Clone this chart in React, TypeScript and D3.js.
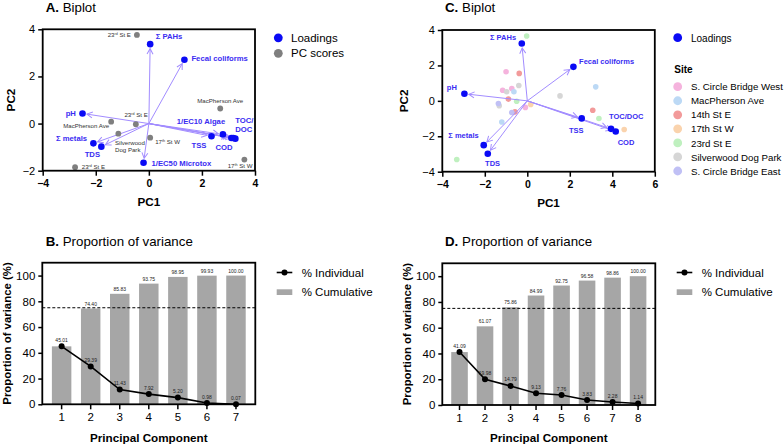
import { useRef, useEffect } from 'react';
import * as d3 from 'd3';

// ---------- A. Biplot (site data) ----------
const aLoadNames = ["Σ PAHs", "Fecal coliforms", "pH", "Σ metals", "TDS", "1/EC50 Microtox", "1/EC10 Algae", "TSS", "COD", "TOC/\nDOC", ""];
const aLoadPC1 = [0.05, 1.34, -2.5, -2.09, -1.79, -0.2, 2.79, 2.36, 3.11, 3.18, 3.26];
const aLoadPC2 = [3.37, 2.71, 0.43, -0.84, -0.98, -1.66, -0.46, -0.54, -0.61, -0.61, -0.64];

const aScoreNames = ["23rd St E", "23rd St E", "MacPherson Ave", "Silverwood\nDog Park", "17th St W", "MacPherson Ave", "17th St W", "23rd St E"];
const aScorePC1 = [-0.45, -0.49, -1.42, -1.15, 0.05, 2.69, 3.6, -2.78];
const aScorePC2 = [3.76, -0.03, 0.08, -0.43, -0.6, 0.64, -1.53, -1.85];

// ---------- C. Biplot (all samples) ----------
const cLoadNames = ["Σ PAHs", "Fecal coliforms", "pH", "Σ metals", "TDS", "TSS", "TOC/DOC", "COD"];
const cLoadPC1 = [-0.26, 2.17, -2.96, -2.05, -1.86, 2.56, 3.94, 4.16];
const cLoadPC2 = [3.24, 1.92, 0.4, -2.5, -2.99, -0.99, -1.58, -1.73];

const sites = ["S. Circle Bridge West", "MacPherson Ave", "14th St E", "17th St W", "23rd St E", "Silverwood Dog Park", "S. Circle Bridge East"];
const sampleSite = [4, 4, 4, 4, 0, 0, 0, 0, 2, 2, 2, 2, 5, 5, 5, 5, 1, 1, 1, 6, 6, 3, 3];
const samplePC1 = [-0.03, -0.5, -3.32, 3.37, -1.0, -1.16, -0.73, -0.09, -0.38, -0.89, -0.58, 3.08, -0.4, -0.97, -1.32, 1.54, -0.63, -1.2, 3.22, -1.36, -0.73, 0.16, 4.56];
const samplePC2 = [3.66, -0.02, -3.31, -1.0, 1.64, 0.6, 0.7, -0.37, 1.55, 0.1, -0.62, -0.53, 0.87, 0.51, -0.28, 0.28, 0.51, -1.19, 0.79, -0.15, -0.66, -0.2, -1.62];

// ---------- B / D. Proportion of variance ----------
const bComponents = ["1", "2", "3", "4", "5", "6", "7"];
const bIndividual = [45.01, 29.39, 11.43, 7.92, 5.2, 0.98, 0.07];
const bCumulative = [45.01, 74.4, 85.83, 93.75, 98.95, 99.93, 100.0];

const dComponents = ["1", "2", "3", "4", "5", "6", "7", "8"];
const dIndividual = [41.09, 19.98, 14.79, 9.13, 7.76, 3.83, 2.28, 1.14];
const dCumulative = [41.09, 61.07, 75.86, 84.99, 92.75, 96.58, 98.86, 100.0];

const threshold = 75;

// label placement (pixel offsets from the point: dx, dy, anchor)
const aLoadLabelPos: [number, number, string][] = [
  [5.5, -5, 'start'], [7, 1.5, 'start'], [-6.6, 3, 'end'], [-6.3, -2, 'end'], [-9, 10, 'middle'],
  [8, 3.2, 'start'], [2.3, -10, 'end'], [-5, 11.5, 'end'], [-7.3, 12.3, 'middle'], [2, -15, 'start'], [0, 0, 'start'],
];
const aScoreLabelPos: [number, number, string][] = [
  [-6, 2, 'end'], [-11.4, -7.7, 'start'], [-2, 6.4, 'end'], [-3.3, 11, 'start'],
  [5, 6.7, 'start'], [0, -5.6, 'middle'], [-4.3, 8.7, 'middle'], [6.7, 2, 'start'],
];
const cLoadLabelPos: [number, number, string][] = [
  [-5.7, -3.3, 'end'], [5.7, -2.7, 'start'], [-17.6, -3.3, 'start'], [-35.4, -7.3, 'start'],
  [-2.7, 11.7, 'start'], [-12.7, 14.7, 'start'], [-2, -10, 'start'], [2, 13.5, 'start'],
];

const siteColors = ["#f5b3dd", "#bcd9f5", "#f29a9a", "#fad3ad", "#bff0bf", "#d6d6d6", "#c0c0f5"];
const FONT = "'Liberation Sans', Arial, Helvetica, sans-serif";
const BLUE = "#0a0af5";
const LABEL_BLUE = "#3a2cf2";
const ARROW = "#a28cff";

type Sel = d3.Selection<any, unknown, null, undefined>;

// writes multi-line text, with ordinal suffixes (23rd, 17th) as superscript
function writeLabel(t: Sel, str: string, lineH: number) {
  const x = t.attr('x');
  str.split('\n').forEach((line, i) => {
    const m = line.match(/^(\d+)(st|nd|rd|th)(.*)$/);
    const first = t.append('tspan').attr('x', x).attr('dy', i === 0 ? 0 : lineH);
    if (m) {
      first.text(m[1]);
      t.append('tspan').attr('baseline-shift', 'super').attr('font-size', '0.6em').text(m[2]);
      t.append('tspan').text(m[3]);
    } else first.text(line);
  });
}

function frame(g: Sel, x0: number, y0: number, x1: number, y1: number) {
  g.append('rect')
    .attr('x', x0).attr('y', y0)
    .attr('width', x1 - x0).attr('height', y1 - y0)
    .attr('fill', 'none').attr('stroke', '#000').attr('stroke-width', 1.8);
}

function styleAxis(ax: Sel, size: number, weight: string) {
  ax.select('.domain').remove();
  ax.selectAll('line').attr('stroke', '#000').attr('stroke-width', 1.5);
  ax.selectAll('text').attr('font-size', size).attr('font-weight', weight).attr('fill', '#000').attr('font-family', FONT);
}

function title(svg: Sel, x: number, y: number, letter: string, rest: string) {
  const t = svg.append('text').attr('x', x).attr('y', y).attr('font-size', 13.3).attr('fill', '#000');
  t.append('tspan').attr('font-weight', 'bold').text(letter);
  t.append('tspan').text(' ' + rest);
}

function arrows(g: Sel, x: any, y: any, pc1: number[], pc2: number[], id: string) {
  const x0 = x(0), y0 = y(0);
  pc1.forEach((v, i) => {
    const px = x(v), py = y(pc2[i]);
    const len = Math.hypot(px - x0, py - y0);
    const k = (len - 4.5) / len;
    g.append('line')
      .attr('x1', x0).attr('y1', y0)
      .attr('x2', x0 + (px - x0) * k).attr('y2', y0 + (py - y0) * k)
      .attr('stroke', ARROW).attr('stroke-width', 1)
      .attr('marker-end', `url(#${id})`);
  });
}

function arrowMarker(svg: Sel, id: string) {
  svg.append('defs').append('marker')
    .attr('id', id).attr('markerUnits', 'userSpaceOnUse')
    .attr('viewBox', '-1 -4 8 8').attr('markerWidth', 8).attr('markerHeight', 8)
    .attr('refX', 5.5).attr('refY', 0).attr('orient', 'auto')
    .append('path').attr('d', 'M0,-3 L5.5,0 L0,3')
    .attr('fill', 'none').attr('stroke', ARROW).attr('stroke-width', 1);
}

function varianceChart(svg: Sel, comps: string[], indiv: number[], cumul: number[], left: number, right: number, top: number, bottom: number, pad: number, legX: number) {
  const g = svg.append('g');
  const x = d3.scaleBand().domain(comps).range([left, right]).paddingInner(pad).paddingOuter(pad);
  const y = d3.scaleLinear().domain([0, 110]).range([bottom, top]);

  g.selectAll('rect.bar').data(cumul).enter().append('rect')
    .attr('class', 'bar')
    .attr('x', (d, i) => x(comps[i])!)
    .attr('y', d => y(d))
    .attr('width', x.bandwidth())
    .attr('height', d => y(0) - y(d))
    .attr('fill', '#a6a6a6');

  // first bar equals the first individual value, its label is shared with the point
  g.selectAll('text.cum').data(cumul).enter().append('text')
    .attr('x', (d, i) => x(comps[i])! + x.bandwidth() / 2)
    .attr('y', d => y(d) - 3)
    .attr('text-anchor', 'middle').attr('font-size', 5).attr('fill', '#222')
    .text((d, i) => (i === 0 ? '' : d.toFixed(2)));

  g.append('line')
    .attr('x1', left).attr('x2', right).attr('y1', y(threshold)).attr('y2', y(threshold))
    .attr('stroke', '#000').attr('stroke-width', 1).attr('stroke-dasharray', '3,2');

  const line = d3.line<number>()
    .x((d, i) => x(comps[i])! + x.bandwidth() / 2)
    .y(d => y(d));
  g.append('path').attr('d', line(indiv)!).attr('fill', 'none').attr('stroke', '#000').attr('stroke-width', 1.6);

  g.selectAll('circle.ind').data(indiv).enter().append('circle')
    .attr('cx', (d, i) => x(comps[i])! + x.bandwidth() / 2)
    .attr('cy', d => y(d)).attr('r', 3).attr('fill', '#000');

  g.selectAll('text.ind').data(indiv).enter().append('text')
    .attr('x', (d, i) => x(comps[i])! + x.bandwidth() / 2)
    .attr('y', d => y(d) - 4.5)
    .attr('text-anchor', 'middle').attr('font-size', 5).attr('fill', '#222')
    .text(d => d.toFixed(2));

  frame(g, left, top, right, bottom);

  const ax = g.append('g').attr('transform', `translate(0,${bottom})`)
    .call(d3.axisBottom(x).tickSize(5).tickPadding(4));
  styleAxis(ax, 11.5, 'normal');
  const ay = g.append('g').attr('transform', `translate(${left},0)`)
    .call(d3.axisLeft(y).tickValues([0, 20, 40, 60, 80, 100]).tickSize(4).tickPadding(3));
  styleAxis(ay, 11.5, 'normal');

  const cx = (left + right) / 2;
  g.append('text').attr('x', cx).attr('y', 441.5).attr('text-anchor', 'middle')
    .attr('font-size', 11.7).attr('font-weight', 'bold').text('Principal Component');
  g.append('text').attr('transform', `translate(${left - 31},${(top + bottom) / 2}) rotate(-90)`)
    .attr('text-anchor', 'middle').attr('font-size', 11.4).attr('font-weight', 'bold')
    .text('Proportion of variance (%)');

  // legend
  const ly = 272.5;
  g.append('line').attr('x1', legX).attr('x2', legX + 15.6).attr('y1', ly).attr('y2', ly)
    .attr('stroke', '#000').attr('stroke-width', 1.6);
  g.append('circle').attr('cx', legX + 7.8).attr('cy', ly).attr('r', 3).attr('fill', '#000');
  g.append('text').attr('x', legX + 25).attr('y', ly + 4).attr('font-size', 11.5).text('% Individual');
  g.append('rect').attr('x', legX).attr('y', 289.3).attr('width', 15.6).attr('height', 5.7).attr('fill', '#a6a6a6');
  g.append('text').attr('x', legX + 25).attr('y', 291.8 + 4).attr('font-size', 11.5).text('% Cumulative');
}

export default function App() {
  const svgRef = useRef<SVGSVGElement>(null);

  useEffect(() => {
    const svg = d3.select(svgRef.current) as Sel;
    svg.selectAll('*').remove();
    svg.attr('font-family', FONT);
    arrowMarker(svg, 'arrA');
    arrowMarker(svg, 'arrC');

    // ===== A. Biplot =====
    title(svg, 45.7, 11.5, 'A.', 'Biplot');
    const xA = d3.scaleLinear().domain([-4, 4]).range([42.7, 255]);
    const yA = d3.scaleLinear().domain([-2, 4]).range([170.7, 29.3]);
    const gA = svg.append('g');
    arrows(gA, xA, yA, aLoadPC1, aLoadPC2, 'arrA');

    gA.selectAll('circle.score').data(aScorePC1).enter().append('circle')
      .attr('cx', d => xA(d)).attr('cy', (d, i) => yA(aScorePC2[i])).attr('r', 2.9).attr('fill', '#7f7f7f');
    aScoreNames.forEach((n, i) => {
      const [dx, dy, anchor] = aScoreLabelPos[i];
      const t = gA.append('text')
        .attr('x', xA(aScorePC1[i]) + dx).attr('y', yA(aScorePC2[i]) + dy)
        .attr('text-anchor', anchor).attr('font-size', 6.1).attr('fill', '#333');
      writeLabel(t, n, 7);
    });

    gA.selectAll('circle.load').data(aLoadPC1).enter().append('circle')
      .attr('cx', d => xA(d)).attr('cy', (d, i) => yA(aLoadPC2[i])).attr('r', 3.3).attr('fill', BLUE);
    aLoadNames.forEach((n, i) => {
      if (!n) return;
      const [dx, dy, anchor] = aLoadLabelPos[i];
      const t = gA.append('text')
        .attr('x', xA(aLoadPC1[i]) + dx).attr('y', yA(aLoadPC2[i]) + dy)
        .attr('text-anchor', anchor).attr('font-size', 7.7).attr('font-weight', 'bold')
        .attr('fill', LABEL_BLUE);
      writeLabel(t, n, 9);
    });

    frame(gA, 42.7, 29.3, 255, 170.7);
    const axA = gA.append('g').attr('transform', 'translate(0,170.7)')
      .call(d3.axisBottom(xA).tickValues([-4, -2, 0, 2, 4]).tickSize(5).tickPadding(4).tickFormat(d3.format('d')));
    styleAxis(axA, 10.5, 'bold');
    const ayA = gA.append('g').attr('transform', 'translate(42.7,0)')
      .call(d3.axisLeft(yA).tickValues([-2, 0, 2, 4]).tickSize(4.5).tickPadding(3).tickFormat(d3.format('d')));
    styleAxis(ayA, 11, 'normal');
    gA.append('text').attr('x', 148.8).attr('y', 206).attr('text-anchor', 'middle')
      .attr('font-size', 11.7).attr('font-weight', 'bold').text('PC1');
    gA.append('text').attr('transform', 'translate(14.5,100) rotate(-90)').attr('text-anchor', 'middle')
      .attr('font-size', 11.7).attr('font-weight', 'bold').text('PC2');

    // legend A
    gA.append('circle').attr('cx', 278.3).attr('cy', 37.8).attr('r', 4.4).attr('fill', BLUE);
    gA.append('text').attr('x', 291).attr('y', 41.8).attr('font-size', 11.5).text('Loadings');
    gA.append('circle').attr('cx', 278.3).attr('cy', 53.3).attr('r', 4.4).attr('fill', '#7f7f7f');
    gA.append('text').attr('x', 291).attr('y', 57.3).attr('font-size', 11.5).text('PC scores');

    // ===== C. Biplot =====
    title(svg, 445, 12, 'C.', 'Biplot');
    const xC = d3.scaleLinear().domain([-4, 6]).range([442.3, 654.8]);
    const yC = d3.scaleLinear().domain([-4, 4]).range([171.7, 30]);
    const gC = svg.append('g');

    gC.selectAll('circle.sample').data(samplePC1).enter().append('circle')
      .attr('cx', d => xC(d)).attr('cy', (d, i) => yC(samplePC2[i])).attr('r', 2.8)
      .attr('fill', (d, i) => siteColors[sampleSite[i]]);

    arrows(gC, xC, yC, cLoadPC1, cLoadPC2, 'arrC');
    gC.selectAll('circle.load').data(cLoadPC1).enter().append('circle')
      .attr('cx', d => xC(d)).attr('cy', (d, i) => yC(cLoadPC2[i])).attr('r', 3.3).attr('fill', BLUE);
    cLoadNames.forEach((n, i) => {
      const [dx, dy, anchor] = cLoadLabelPos[i];
      gC.append('text')
        .attr('x', xC(cLoadPC1[i]) + dx).attr('y', yC(cLoadPC2[i]) + dy)
        .attr('text-anchor', anchor).attr('font-size', 7.5).attr('font-weight', 'bold')
        .attr('fill', LABEL_BLUE).text(n);
    });

    frame(gC, 442.3, 30, 654.8, 171.7);
    const axC = gC.append('g').attr('transform', 'translate(0,171.7)')
      .call(d3.axisBottom(xC).tickValues([-4, -2, 0, 2, 4, 6]).tickSize(5).tickPadding(4).tickFormat(d3.format('d')));
    styleAxis(axC, 10.5, 'bold');
    const ayC = gC.append('g').attr('transform', 'translate(442.3,0)')
      .call(d3.axisLeft(yC).tickValues([-4, -2, 0, 2, 4]).tickSize(4.5).tickPadding(3).tickFormat(d3.format('d')));
    styleAxis(ayC, 11, 'normal');
    gC.append('text').attr('x', 548.5).attr('y', 207).attr('text-anchor', 'middle')
      .attr('font-size', 11.7).attr('font-weight', 'bold').text('PC1');
    gC.append('text').attr('transform', 'translate(407.5,100.8) rotate(-90)').attr('text-anchor', 'middle')
      .attr('font-size', 11.7).attr('font-weight', 'bold').text('PC2');

    // legend C
    gC.append('circle').attr('cx', 677.7).attr('cy', 37.7).attr('r', 4.4).attr('fill', BLUE);
    gC.append('text').attr('x', 691).attr('y', 41.5).attr('font-size', 10).text('Loadings');
    gC.append('text').attr('x', 674.3).attr('y', 72.5).attr('font-size', 10).attr('font-weight', 'bold').text('Site');
    sites.forEach((s, i) => {
      const cy = 86.7 + i * 14.05;
      gC.append('circle').attr('cx', 677.7).attr('cy', cy).attr('r', 4.4).attr('fill', siteColors[i]);
      gC.append('text').attr('x', 691).attr('y', cy + 3.6).attr('font-size', 9.7).text(s);
    });

    // ===== B / D. Proportion of variance =====
    title(svg, 45.7, 246, 'B.', 'Proportion of variance');
    varianceChart(svg, bComponents, bIndividual, bCumulative, 42.3, 255.3, 262.7, 404.3, 0.33, 276.7);
    title(svg, 445, 246, 'D.', 'Proportion of variance');
    varianceChart(svg, dComponents, dIndividual, dCumulative, 442.3, 655.3, 263.3, 405, 0.35, 676.7);
  }, []);

  return (
    <svg ref={svgRef} width={784} height={445}
      style={{ position: 'absolute', left: 0, top: 0, background: '#fff' }} />
  );
}
